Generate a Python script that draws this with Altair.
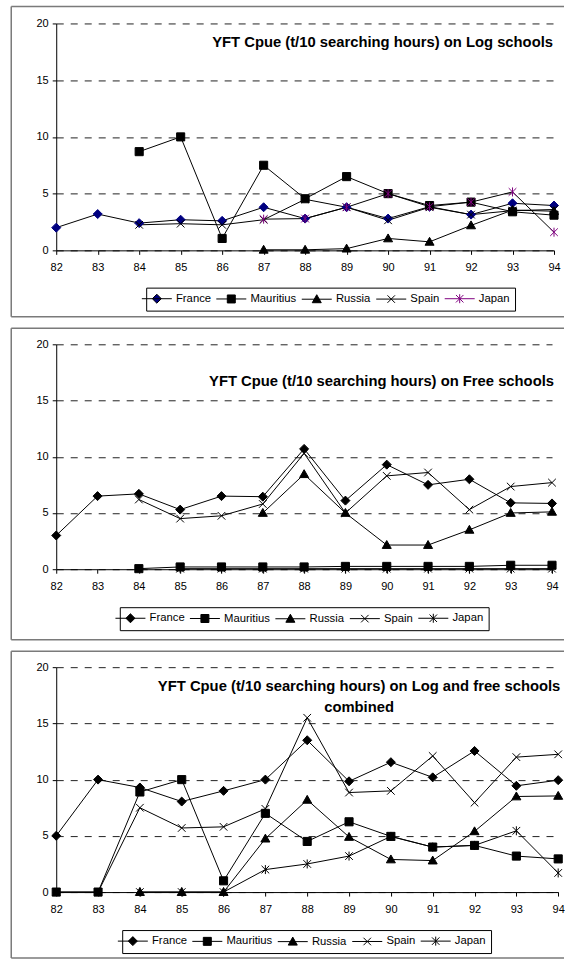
import altair as alt
import pandas as pd

FONT = "Liberation Sans"

years = list(range(82, 95))
series = ["France", "Mauritius", "Russia", "Spain", "Japan"]

# --- CPUE on log schools ---
log_france = [2.0, 3.2, 2.4, 2.7, 2.6, 3.8, 2.8, 3.8, 2.8, 3.85, 3.15, 4.15, 3.95]
log_mauritius = [None, None, 8.7, 10.0, 1.05, 7.5, 4.55, 6.5, 5.0, 3.95, 4.25, 3.4, 3.1]
log_russia = [None, None, None, None, None, 0.05, 0.05, 0.15, 1.05, 0.75, 2.2, 3.55, 3.45]
log_spain = [None, None, 2.25, 2.35, 2.25, 2.7, 4.5, 3.8, 2.65, 3.8, 3.15, 3.5, 3.6]
log_japan = [None, None, None, None, None, 2.75, 2.8, 3.8, 5.0, 3.85, 4.25, 5.15, 1.6]

# --- CPUE on free schools ---
free_france = [3.0, 6.5, 6.7, 5.3, 6.5, 6.45, 10.7, 6.1, 9.3, 7.5, 8.0, 5.9, 5.85]
free_mauritius = [None, None, 0.05, 0.2, 0.2, 0.2, 0.2, 0.25, 0.25, 0.25, 0.25, 0.35, 0.35]
free_russia = [None, None, None, None, None, 5.0, 8.45, 5.0, 2.15, 2.15, 3.5, 5.0, 5.1]
free_spain = [None, None, 6.2, 4.5, 4.75, 5.8, 10.3, 5.0, 8.3, 8.6, 5.3, 7.35, 7.7]
free_japan = [None, None, None, 0.05, 0.05, 0.05, 0.05, 0.05, 0.05, 0.05, 0.05, 0.05, 0.05]

# --- CPUE on log and free schools combined ---
comb_france = [5.0, 10.0, 9.3, 8.05, 9.0, 10.0, 13.5, 9.85, 11.55, 10.2, 12.55, 9.45, 9.95]
comb_mauritius = [0.0, 0.0, 8.9, 10.0, 1.0, 7.0, 4.5, 6.25, 4.95, 4.0, 4.15, 3.2, 2.95]
comb_russia = [None, None, 0.0, 0.0, 0.0, 4.75, 8.2, 4.9, 2.9, 2.8, 5.4, 8.5, 8.55]
comb_spain = [0.0, 0.0, 7.5, 5.7, 5.8, 7.4, 15.5, 8.85, 9.0, 12.1, 7.95, 12.0, 12.25]
comb_japan = [None, None, 0.0, 0.0, 0.0, 2.0, 2.5, 3.2, 4.95, 4.0, 4.15, 5.45, 1.7]

y_ticks = [0, 5, 10, 15, 20]

# marker outlines drawn on the data points (unit square -1..1)
marker_paths = [
    "M0,-1L1,0L0,1L-1,0Z",
    "M-0.9,-0.9H0.9V0.9H-0.9Z",
    "M0,-1L1,0.75L-1,0.75Z",
    "M-0.85,-0.85L0.85,0.85M-0.85,0.85L0.85,-0.85",
    "M-0.85,-0.85L0.85,0.85M-0.85,0.85L0.85,-0.85M0,-1V1",
]
# legend keys: a short line segment with the marker on it
key_paths = [
    "M-3,0H3M0,-0.9L0.9,0L0,0.9L-0.9,0Z",
    "M-3,0H3M-0.8,-0.8H0.8V0.8H-0.8Z",
    "M-3,0H3M0,-0.9L0.9,0.7L-0.9,0.7Z",
    "M-3,0H3M-0.75,-0.75L0.75,0.75M-0.75,0.75L0.75,-0.75",
    "M-3,0H3M-0.75,-0.75L0.75,0.75M-0.75,0.75L0.75,-0.75M0,-0.9V0.9",
]


def long_table(columns):
    rows = []
    for name, vals in zip(series, columns):
        for yr, v in zip(years, vals):
            if v is not None:
                rows.append({"year": yr, "series": name, "cpue": v})
    return pd.DataFrame(rows)


def panel(columns, title_lines, title_align, title_x, title_y,
          width, height, frame_box, legend_xy, fill_colors, key_strokes):
    df = long_table(columns)
    one = pd.DataFrame({"k": [0]})

    x_enc = alt.X(
        "year:Q",
        scale=alt.Scale(domain=[82, 94], nice=False, zero=False),
        axis=alt.Axis(values=years, format="d", title=None, grid=False,
                      tickSize=4, labelPadding=7, labelFlush=False,
                      domainColor="black", tickColor="black",
                      labelFont=FONT, labelFontSize=11, labelColor="black"),
    )
    y_enc = alt.Y(
        "cpue:Q",
        scale=alt.Scale(domain=[0, 20], nice=False),
        axis=alt.Axis(values=y_ticks, title=None, grid=True,
                      gridDash=[7, 7], gridColor="#222222", gridWidth=1,
                      tickSize=4, labelPadding=4,
                      domainColor="black", tickColor="black",
                      labelFont=FONT, labelFontSize=11, labelColor="black"),
    )

    # open-ended panel border: top, left and bottom edges
    fx1, fy1, fx2, fy2 = frame_box
    edge = dict(stroke="#7a7a7a", strokeWidth=1.5, clip=False)
    frame = alt.layer(
        alt.Chart(one).mark_rule(**edge).encode(
            x=alt.value(fx1), x2=alt.value(fx2), y=alt.value(fy1)),
        alt.Chart(one).mark_rule(**edge).encode(
            x=alt.value(fx1), x2=alt.value(fx2), y=alt.value(fy2)),
        alt.Chart(one).mark_rule(**edge).encode(
            x=alt.value(fx1), y=alt.value(fy1), y2=alt.value(fy2)),
    )

    base = alt.Chart(df)
    lines = base.mark_line(color="black", strokeWidth=1).encode(
        x=x_enc, y=y_enc, detail="series:N"
    )
    points = base.mark_point(filled=True, opacity=1, size=81, strokeWidth=1).encode(
        x=x_enc, y=y_enc,
        shape=alt.Shape("series:N", scale=alt.Scale(domain=series, range=marker_paths), legend=None),
        fill=alt.Fill("series:N", scale=alt.Scale(domain=series, range=fill_colors), legend=None),
        stroke=alt.Stroke("series:N", scale=alt.Scale(domain=series, range=fill_colors), legend=None),
    )

    lx, ly = legend_xy
    leg = alt.Legend(
        title=None, orient="none", legendX=lx, legendY=ly,
        direction="horizontal", columns=5,
        symbolSize=100, symbolStrokeWidth=1, symbolOpacity=1,
        labelOffset=13.5, columnPadding=2.5, padding=5,
        strokeColor="black", fillColor="white",
        labelFont=FONT, labelFontSize=11.3, labelColor="black",
    )
    key = base.transform_filter("false").mark_point(filled=True, opacity=1).encode(
        x=x_enc, y=y_enc,
        shape=alt.Shape("series:N", scale=alt.Scale(domain=series, range=key_paths), legend=leg),
        fill=alt.Fill("series:N", scale=alt.Scale(domain=series, range=fill_colors), legend=leg),
        stroke=alt.Stroke("series:N", scale=alt.Scale(domain=series, range=key_strokes), legend=leg),
    )

    text = title_lines if len(title_lines) > 1 else title_lines[0]
    title = alt.Chart(one).mark_text(
        text=text, align=title_align, baseline="middle", lineHeight=21,
        font=FONT, fontSize=14.8, fontWeight="bold", color="black",
    ).encode(x=alt.value(title_x), y=alt.value(title_y))

    return alt.layer(frame, lines, points, key, title).resolve_scale(
        shape="independent", fill="independent", stroke="independent"
    ).properties(width=width, height=height)


black5 = ["black"] * 5

p1 = panel(
    [log_france, log_mauritius, log_russia, log_spain, log_japan],
    ["YFT Cpue (t/10 searching hours) on Log schools"], "right", 497, 20,
    498, 227, (-45, -17, 508, 293.5), (90, 264.3),
    ["#000080", "black", "black", "black", "#800080"],
    ["black", "black", "black", "black", "#800080"],
)
p2 = panel(
    [free_france, free_mauritius, free_russia, free_spain, free_japan],
    ["YFT Cpue (t/10 searching hours) on Free schools"], "right", 498, 38,
    496, 225, (-45, -16, 508, 295.5), (63.6, 263),
    black5, black5,
)
p3 = panel(
    [comb_france, comb_mauritius, comb_russia, comb_spain, comb_japan],
    ["YFT Cpue (t/10 searching hours) on Log and free schools", "combined"], "center", 303, 20,
    502.2, 225, (-45, -16, 508, 291), (66, 263),
    black5, black5,
)

chart = alt.vconcat(p1, p2, p3, spacing=9).properties(
    padding={"left": 10.25, "top": 5.25, "right": 0, "bottom": 0},
    background="white",
).configure_view(strokeWidth=0)

chart.save("out.html", embed_options={"renderer": "svg", "actions": False})
